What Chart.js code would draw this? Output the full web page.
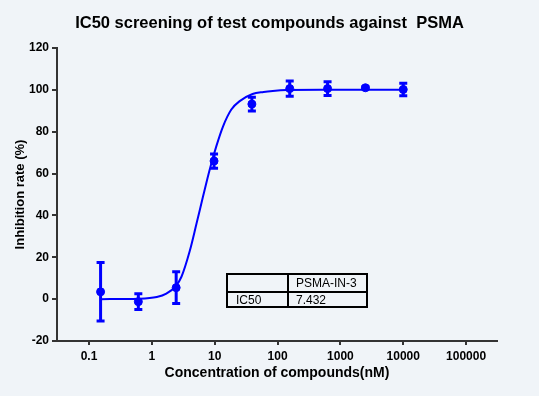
<!DOCTYPE html>
<html>
<head>
<meta charset="utf-8">
<script src="https://cdn.jsdelivr.net/npm/chart.js@4"></script>
<style>
  body { margin: 0; background: #f0f4f8; }
  #wrap { width: 539px; height: 396px; }
</style>
</head>
<body>
<div id="wrap"><canvas id="grafico"></canvas></div>
<script>
// measured points (nM, % inhibition, SD)
const concentrations = [0.153, 0.61, 2.44, 9.77, 39.06, 156.25, 625, 2500, 10000];
const inhibition = [3.5, -1.2, 5.5, 66, 93.2, 100.6, 100.6, 101, 100.2];
const errors = [14, 3.8, 7.6, 3.4, 3.3, 3.6, 3.3, 0.5, 3];

// fitted curve
const fitX = [0.153, 0.61, 1.2, 1.7, 2.44, 2.96, 4.01, 5.13, 6.52, 8.34, 10.6, 13.6, 18.4, 25, 40, 60, 84, 140, 500, 10000];
const fitY = [0, 0.2, 1.0, 2.6, 6.5, 10.7, 23, 36, 49, 62, 73, 82.6, 90.6, 94.6, 98, 99, 99.5, 99.9, 100, 100];

const xTicks = [0.1, 1, 10, 100, 1000, 10000, 100000];

const tableHeader = ['', 'PSMA-IN-3'];
const tableRow = ['IC50', '7.432'];

const azul = '#0000ff';
const ejes = '#333333';
const fuente = "'Liberation Sans', Arial, sans-serif";

// fondo del lienzo
const fondo = {
    id: 'fondo',
    beforeDraw(chart) {
        const c = chart.ctx;
        c.save();
        c.fillStyle = '#f0f4f8';
        c.fillRect(0, 0, chart.width, chart.height);
        c.restore();
    }
};

// barras de error
const barrasError = {
    id: 'barrasError',
    afterDatasetsDraw(chart) {
        const c = chart.ctx;
        const sx = chart.scales.x, sy = chart.scales.y;
        c.save();
        c.strokeStyle = azul;
        c.lineWidth = 3;
        concentrations.forEach((x, i) => {
            const px = sx.getPixelForValue(x);
            const top = sy.getPixelForValue(inhibition[i] + errors[i]);
            const bot = sy.getPixelForValue(inhibition[i] - errors[i]);
            c.beginPath();
            c.moveTo(px, top); c.lineTo(px, bot);
            c.moveTo(px - 4, top); c.lineTo(px + 4, top);
            c.moveTo(px - 4, bot); c.lineTo(px + 4, bot);
            c.stroke();
        });
        c.restore();
    }
};

// tabla IC50
const tabla = {
    id: 'tabla',
    afterDraw(chart) {
        const c = chart.ctx;
        const a = chart.chartArea;
        const x0 = a.left + 170, x1 = a.left + 231, x2 = a.left + 310;
        const y0 = 274, y1 = 292, y2 = 307;
        c.save();
        c.strokeStyle = '#000';
        c.lineWidth = 2;
        c.strokeRect(x0, y0, x2 - x0, y2 - y0);
        c.beginPath();
        c.moveTo(x0, y1); c.lineTo(x2, y1);
        c.moveTo(x1, y0); c.lineTo(x1, y2);
        c.stroke();
        c.fillStyle = '#000';
        c.font = '12px ' + fuente;
        c.textBaseline = 'middle';
        c.fillText(tableHeader[1], x1 + 8, (y0 + y1) / 2 + 1);
        c.fillText(tableRow[0], x0 + 9, (y1 + y2) / 2 + 1);
        c.fillText(tableRow[1], x1 + 8, (y1 + y2) / 2 + 1);
        c.restore();
    }
};

const puntos = concentrations.map((x, i) => ({ x: x, y: inhibition[i] }));
const curva = fitX.map((x, i) => ({ x: x, y: fitY[i] }));

new Chart(document.getElementById('grafico').getContext('2d'), {
    type: 'scatter',
    data: {
        datasets: [{
            type: 'line',
            data: curva,
            borderColor: azul,
            borderWidth: 2,
            pointRadius: 0,
            cubicInterpolationMode: 'monotone',
            fill: false
        }, {
            data: puntos,
            backgroundColor: azul,
            borderColor: azul,
            pointRadius: 4,
            showLine: false
        }]
    },
    options: {
        responsive: true,
        maintainAspectRatio: false,
        animation: false,
        layout: { padding: 0 },
        plugins: {
            legend: { display: false },
            tooltip: { enabled: false },
            title: {
                display: true,
                text: 'IC50 screening of test compounds against  PSMA',
                color: '#000',
                font: { family: fuente, size: 16.5, weight: 'bold' },
                padding: { top: 13.7, bottom: 14.5 }
            }
        },
        scales: {
            x: {
                type: 'logarithmic',
                min: 0.031,
                max: 310000,
                afterBuildTicks(s) { s.ticks = xTicks.map(v => ({ value: v })); },
                afterFit(s) { s.height = 55; },
                grid: { display: true, drawOnChartArea: false, drawTicks: true, tickLength: 4, color: ejes, lineWidth: 2 },
                border: { color: ejes, width: 2 },
                ticks: {
                    color: '#000',
                    padding: 4,
                    maxRotation: 0,
                    autoSkip: false,
                    font: { family: fuente, size: 12, weight: 'bold' },
                    callback: v => String(v)
                },
                title: {
                    display: true,
                    text: 'Concentration of compounds(nM)',
                    color: '#000',
                    font: { family: fuente, size: 14, weight: 'bold' },
                    padding: { top: 0, bottom: 14.6 }
                }
            },
            y: {
                min: -20,
                max: 120,
                afterFit(s) { s.width = 57; },
                grid: { display: true, drawOnChartArea: false, drawTicks: true, tickLength: 5, color: ejes, lineWidth: 2 },
                border: { color: ejes, width: 2 },
                ticks: {
                    stepSize: 20,
                    color: '#000',
                    padding: 3,
                    font: { family: fuente, size: 12, weight: 'bold' }
                },
                title: {
                    display: true,
                    text: 'Inhibition rate (%)',
                    color: '#000',
                    font: { family: fuente, size: 13, weight: 'bold' },
                    padding: { top: 12.2, bottom: 0 }
                }
            },
            // margen derecho vacío
            derecha: {
                position: 'right',
                min: 0,
                max: 1,
                afterFit(s) { s.width = 42; },
                grid: { display: false },
                border: { display: false },
                ticks: { display: false }
            }
        }
    },
    plugins: [fondo, barrasError, tabla]
});
</script>
</body>
</html>
